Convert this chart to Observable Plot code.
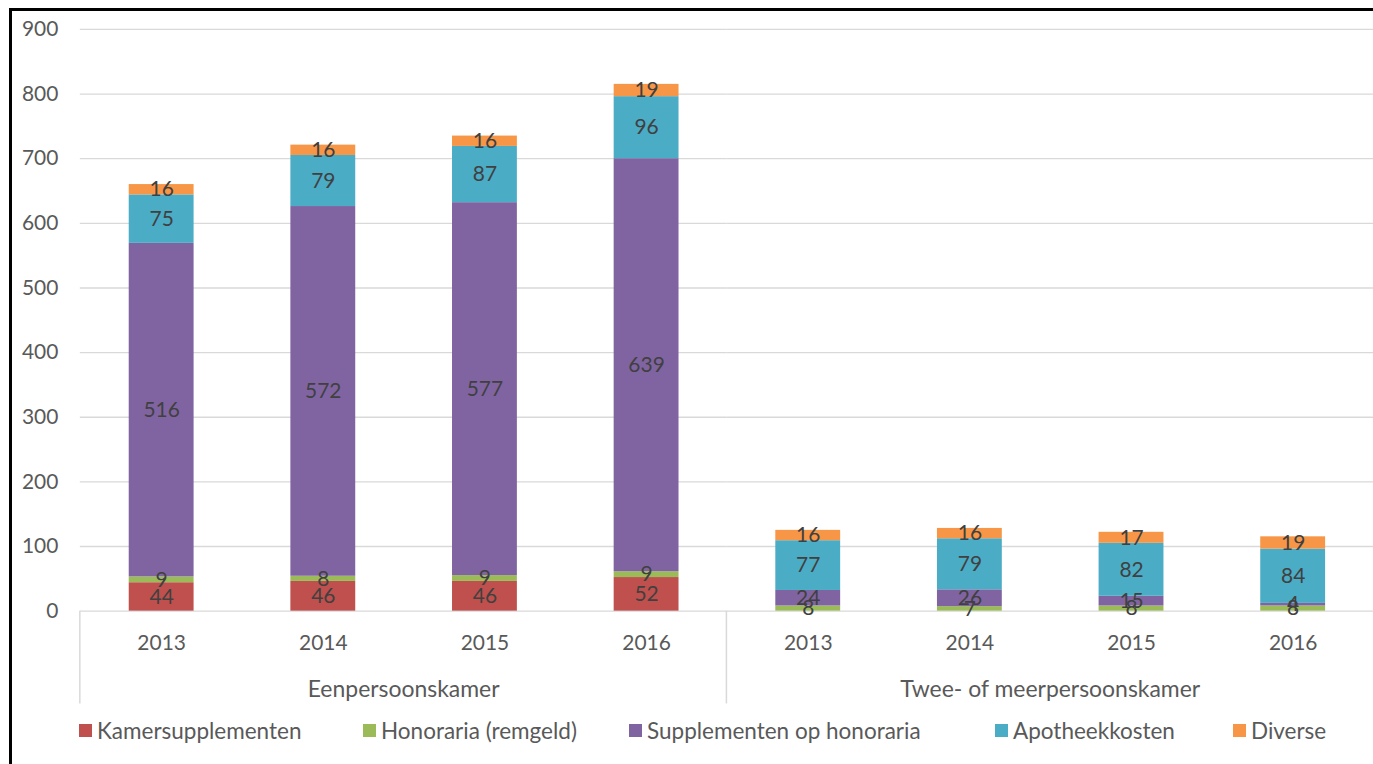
<!DOCTYPE html>
<html>
<head>
<meta charset="utf-8">
<script src="https://cdn.jsdelivr.net/npm/d3@7"></script>
<script src="https://cdn.jsdelivr.net/npm/@observablehq/plot@0.6"></script>
<style>
  html, body { margin: 0; padding: 0; background: #fff; }
  #wrap { position: relative; width: 1373px; height: 764px; overflow: hidden; font-family: Lato, "Open Sans", sans-serif; }
  #frame { position: absolute; left: 9px; top: 8px; width: 1400px; height: 800px; border-left: 3px solid #000; border-top: 3px solid #000; pointer-events: none; }
  #chart { position: absolute; left: 0; top: 0; }
  #legend { position: absolute; left: 0; top: 712px; width: 1373px; height: 36px; font-size: 22.5px; color: #595959; white-space: nowrap; }
  #legend .item { position: absolute; top: 0; height: 36px; display: flex; align-items: center; }
  #legend .sw { width: 13px; height: 13px; margin-right: 5px; }
</style>
</head>
<body>
<div id="wrap">
  <div id="chart"></div>
  <div id="legend"></div>
  <div id="frame"></div>
</div>
<script>
// Categories
const groups = ["Eenpersoonskamer", "Twee- of meerpersoonskamer"];
const years = ["2013", "2014", "2015", "2016"];
const series = ["Kamersupplementen", "Honoraria (remgeld)", "Supplementen op honoraria", "Apotheekkosten", "Diverse"];
const seriesColors = ["#C0504D", "#9BBB59", "#8064A2", "#4BACC6", "#F79646"];

// Values per series: four years of Eenpersoonskamer, then four years of Twee- of meerpersoonskamer
const kamersupplementen = [44, 46, 46, 52, 0, 0, 0, 0];
const honoraria = [9, 8, 9, 9, 8, 7, 8, 8];
const supplementen = [516, 572, 577, 639, 24, 26, 15, 4];
const apotheekkosten = [75, 79, 87, 96, 77, 79, 82, 84];
const diverse = [16, 16, 16, 19, 16, 16, 17, 19];

// Y-axis tick labels
const yTicks = [0, 100, 200, 300, 400, 500, 600, 700, 800, 900];

// Legend layout: left edge of each legend entry
const legendLeft = [79, 363, 629, 995, 1233];

const seriesValues = [kamersupplementen, honoraria, supplementen, apotheekkosten, diverse];

// Long table for the stacked bars (zero segments are left out)
const rows = [];
groups.forEach((g, gi) => {
  years.forEach((yr, yi) => {
    series.forEach((s, si) => {
      const v = seriesValues[si][gi * years.length + yi];
      if (v > 0) rows.push({group: g, year: yr, series: s, value: v});
    });
  });
});

const plot = Plot.plot({
  width: 1376,
  height: 712,
  marginLeft: 80,
  marginRight: 0,
  marginTop: 29,
  marginBottom: 100,
  style: {fontFamily: "Lato, 'Open Sans', sans-serif", fontSize: "21px", color: "#595959", background: "transparent"},
  facet: {data: rows, x: "group"},
  fx: {domain: groups, padding: 0, axis: "bottom", tickSize: 0, tickPadding: 70, label: null},
  x: {domain: years, paddingInner: 0.6, paddingOuter: 0.3, axis: "bottom", tickSize: 0, tickPadding: 24, label: null},
  y: {domain: [0, 900], ticks: yTicks, tickSize: 0, tickPadding: 22, label: null},
  color: {domain: series, range: seriesColors},
  marks: [
    Plot.ruleY(yTicks, {stroke: "#D9D9D9", strokeWidth: 1.3}),
    Plot.barY(rows, Plot.stackY({x: "year", y: "value", z: "series", fill: "series", order: series})),
    Plot.text(rows, Plot.stackY({
      x: "year", y: "value", z: "series", order: series,
      text: d => String(d.value), fill: "#404040", fontSize: 21
    }))
  ]
});

document.getElementById("chart").appendChild(plot);

// Larger group labels under the years
const svg = d3.select(plot);
svg.selectAll("text").filter(function () { return groups.includes(this.textContent); })
  .attr("font-size", 23).style("font-size", "23px");

// Vertical separators between the two room types, from the x baseline down
const fx = plot.scale("fx");
const ys = plot.scale("y");
const base = ys.range[0];
const step = (fx.range[1] - fx.range[0]) / groups.length;
groups.forEach((g, i) => {
  const xPos = fx.range[0] + i * step;
  svg.append("line")
    .attr("x1", xPos).attr("x2", xPos)
    .attr("y1", base).attr("y2", base + 93)
    .attr("stroke", "#D9D9D9").attr("stroke-width", 1.5);
});

// Legend
const legend = d3.select("#legend");
series.forEach((s, i) => {
  const item = legend.append("div").attr("class", "item").style("left", legendLeft[i] + "px");
  item.append("div").attr("class", "sw").style("background", seriesColors[i]);
  item.append("span").text(s);
});
</script>
</body>
</html>
